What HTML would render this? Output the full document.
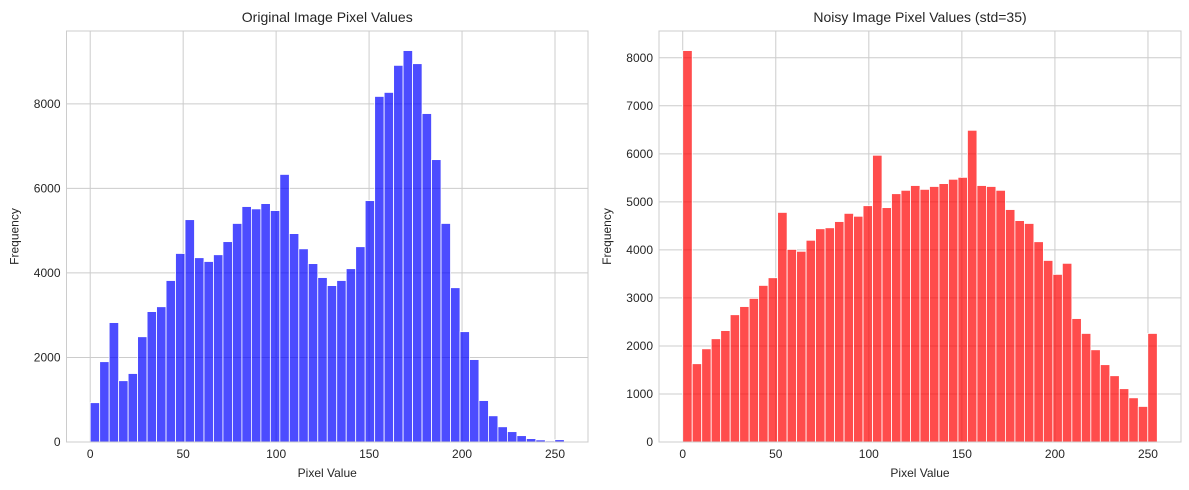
<!DOCTYPE html>
<html><head><meta charset="utf-8"><style>
body{margin:0;background:#fff;}
svg{display:block;font-family:"Liberation Sans","DejaVu Sans",sans-serif;}
</style></head><body>
<svg id="fig" width="1189" height="490" viewBox="0 0 1189 490"></svg>
<script>
const binStart = 0, binEnd = 255, binCount = 50;
const origCounts = [930,1900,2825,1450,1620,2490,3085,3200,3820,4460,5260,4360,4270,4430,4740,5170,5570,5515,5640,5475,6330,4930,4570,4220,3890,3700,3820,4100,4620,5710,8175,8270,8910,9260,8950,7770,6680,5170,3650,2610,1950,980,620,360,245,150,80,50,25,55];
const noisyCounts = [8150,1630,1940,2150,2320,2650,2820,2990,3260,3420,4780,4010,3970,4200,4440,4460,4590,4760,4700,4920,5970,4880,5170,5240,5340,5260,5320,5380,5470,5510,6490,5340,5320,5240,4840,4610,4550,4170,3780,3490,3720,2570,2260,1920,1610,1380,1110,920,740,2260];
const xTicks = [0,50,100,150,200,250];
const origYTicks = [0,2000,4000,6000,8000];
const noisyYTicks = [0,1000,2000,3000,4000,5000,6000,7000,8000];

const NS = "http://www.w3.org/2000/svg";
const svg = document.getElementById('fig');
function mk(tag, attrs, parent){const e=document.createElementNS(NS,tag);for(const k in attrs)e.setAttribute(k,attrs[k]);(parent||svg).appendChild(e);return e;}

function drawPanel(prefix, left, right, top, bottom, counts, yTicks, color, title){
  const g = mk('g',{});
  
  
  const xmin = binStart - (binEnd-binStart)*0.05, xmax = binEnd + (binEnd-binStart)*0.05;
  const ymax = Math.max(...counts)*1.05;
  const X = v => left + (v-xmin)/(xmax-xmin)*(right-left);
  const Y = v => bottom - v/ymax*(bottom-top);
  xTicks.forEach(t=>{
    const l = mk('line',{x1:X(t),x2:X(t),y1:top,y2:bottom,stroke:'#cccccc','stroke-width':1},g);
    
    
    const tx = mk('text',{x:X(t),y:bottom+16,'text-anchor':'middle','font-size':12,fill:'#262626'},g);
    tx.textContent = t;
    
    
  });
  yTicks.forEach(t=>{
    const l = mk('line',{x1:left,x2:right,y1:Y(t),y2:Y(t),stroke:'#cccccc','stroke-width':1},g);
    
    
    const tx = mk('text',{x:left-6,y:Y(t)+4,'text-anchor':'end','font-size':12,fill:'#262626'},g);
    tx.textContent = t;
    
    
  });
  const w = (binEnd-binStart)/binCount;
  counts.forEach((c,i)=>{
    const x0 = X(binStart+i*w), x1 = X(binStart+(i+1)*w);
    const r = mk('rect',{x:x0,y:Y(c),width:x1-x0,height:Y(0)-Y(c),fill:color,'fill-opacity':0.7,stroke:'#ffffff','stroke-width':0.8},g);
    
    
  });
  const fr = mk('rect',{x:left,y:top,width:right-left,height:bottom-top,fill:'none',stroke:'#cccccc','stroke-width':1},g);
  
  
  const tt = mk('text',{x:(left+right)/2,y:top-9,'text-anchor':'middle','font-size':14,fill:'#262626'},g);
  tt.textContent = title;
  
  
  const xl = mk('text',{x:(left+right)/2,y:bottom+35,'text-anchor':'middle','font-size':12,fill:'#262626'},g);
  xl.textContent = 'Pixel Value';
  
  
  const yx = left-48, yy=(top+bottom)/2;
  const yl = mk('text',{x:yx,y:yy,'text-anchor':'middle','font-size':12,fill:'#262626',transform:`rotate(-90 ${yx} ${yy})`},g);
  yl.textContent = 'Frequency';
  
  
}
drawPanel('original', 66.5, 588, 31, 442, origCounts, origYTicks, '#0000ff', 'Original Image Pixel Values');
drawPanel('noisy', 659, 1181, 31, 442, noisyCounts, noisyYTicks, '#ff0000', 'Noisy Image Pixel Values (std=35)');
</script>
</body></html>
